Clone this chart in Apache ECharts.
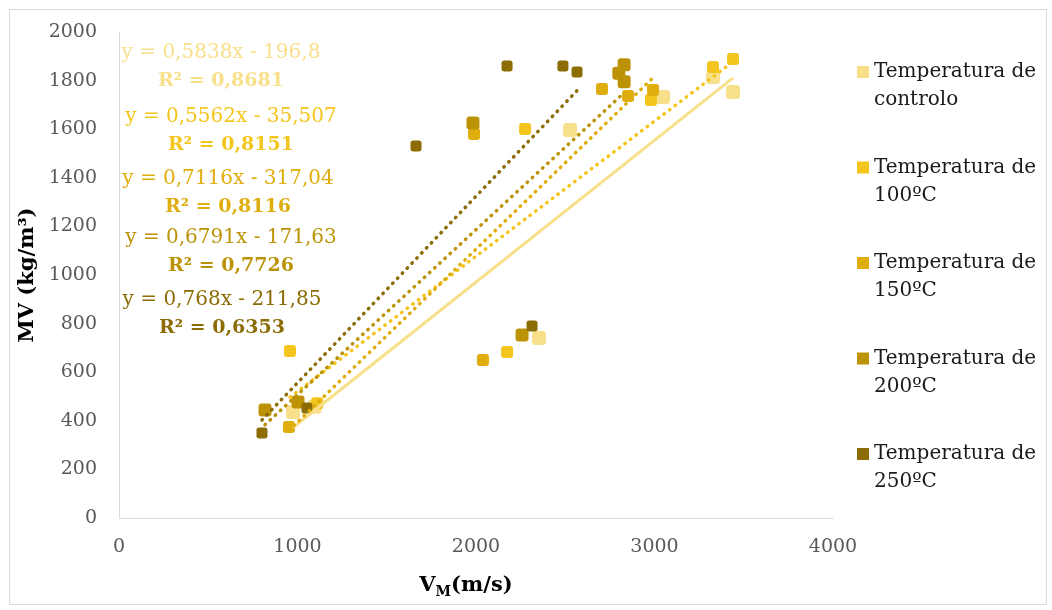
<!DOCTYPE html>
<html>
<head>
<meta charset="utf-8">
<script src="https://cdn.jsdelivr.net/npm/echarts@6/dist/echarts.min.js"></script>
<style>
  html, body { margin: 0; padding: 0; background: #fff; }
  #chart { width: 1052px; height: 610px; }
</style>
</head>
<body>
<div id="chart"></div>
<script>
// series names and legend text
var names = ['Temperatura de controlo', 'Temperatura de 100ºC', 'Temperatura de 150ºC', 'Temperatura de 200ºC', 'Temperatura de 250ºC'];
var legendSecond = ['controlo', '100ºC', '150ºC', '200ºC', '250ºC'];
var colors = ['#F8DF89', '#F4C51C', '#DFAD0D', '#BC9307', '#8B6C05'];

// V_M (m/s) and MV (kg/m3) per series
var ctrlX = [975, 1095, 2353, 2527, 3048, 3328, 3440];
var ctrlY = [436, 458, 741, 1597, 1733, 1815, 1753];
var t100X = [958, 1110, 2174, 2275, 2980, 3328, 3440];
var t100Y = [687, 472, 683, 1601, 1720, 1856, 1889];
var t150X = [952, 1989, 2039, 2706, 2852, 2992];
var t150Y = [374, 1580, 650, 1765, 1737, 1761];
var t200X = [818, 1003, 1983, 2258, 2800, 2830, 2830];
var t200Y = [444, 477, 1626, 753, 1830, 1865, 1795];
var t250X = [801, 1053, 1664, 2174, 2314, 2487, 2566];
var t250Y = [350, 453, 1531, 1860, 790, 1860, 1835];

// linear trendlines  y = a*x + b
var slopes = [0.5838, 0.5562, 0.7116, 0.6791, 0.768];
var intercepts = [-196.8, -35.507, -317.04, -171.63, -211.85];
var eqText = ['y = 0,5838x - 196,8', 'y = 0,5562x - 35,507', 'y = 0,7116x - 317,04', 'y = 0,6791x - 171,63', 'y = 0,768x - 211,85'];
var r2Text = ['R² = 0,8681', 'R² = 0,8151', 'R² = 0,8116', 'R² = 0,7726', 'R² = 0,6353'];

var xs = [ctrlX, t100X, t150X, t200X, t250X];
var ys = [ctrlY, t100Y, t150Y, t200Y, t250Y];
var symSize = [14, 12, 12, 13, 11];

var font = 'DejaVu Serif';
var myChart = echarts.init(document.getElementById('chart'));

var series = [];
// pontos
for (var i = 0; i < 5; i++) {
    var pts = [];
    for (var k = 0; k < xs[i].length; k++) pts.push([xs[i][k], ys[i][k]]);
    series.push({
        name: names[i],
        type: 'scatter',
        symbol: 'roundRect',
        symbolSize: symSize[i],
        itemStyle: { color: colors[i], opacity: 1 },
        data: pts,
        z: 2
    });
}
// linhas de tendencia
for (var i = 0; i < 5; i++) {
    var x0 = Math.min.apply(null, xs[i]);
    var x1 = Math.max.apply(null, xs[i]);
    series.push({
        name: 'trend' + i,
        type: 'line',
        symbol: 'none',
        silent: true,
        z: 3,
        lineStyle: i === 0 ? { color: colors[i], width: 3 } :
            { color: colors[i], width: 3.5, type: [0.5, 6.5], cap: 'round' },
        data: [[x0, slopes[i] * x0 + intercepts[i]], [x1, slopes[i] * x1 + intercepts[i]]]
    });
}

// equacoes
var eqY = [53, 117, 179, 238, 300];
var eqX = [221, 231, 228, 231, 222];
var graphics = [{
    type: 'rect', left: 7, top: 7, silent: true,
    shape: { width: 1037, height: 595 },
    style: { fill: null, stroke: '#D9D9D9', lineWidth: 1 }
}];
for (var i = 0; i < 5; i++) {
    graphics.push({
        type: 'text', x: eqX[i], y: eqY[i], silent: true,
        style: {
            text: eqText[i], fill: colors[i], font: '20px "' + font + '"',
            align: 'center', verticalAlign: 'middle'
        }
    });
    graphics.push({
        type: 'text', x: eqX[i], y: eqY[i] + 28, silent: true,
        style: {
            text: r2Text[i], fill: colors[i], font: 'bold 19px "' + font + '"',
            align: 'center', verticalAlign: 'middle'
        }
    });
}

var option = {
    animation: false,
    backgroundColor: '#fff',
    grid: { left: 119, right: 219, top: 32, bottom: 92 },
    legend: {
        orient: 'vertical',
        left: 857, top: 30, padding: 0,
        itemWidth: 12, itemHeight: 12, itemGap: 11.5,
        icon: 'rect',
        data: names,
        formatter: function (name) {
            return '\nTemperatura de\n' + legendSecond[names.indexOf(name)];
        },
        textStyle: { fontFamily: font, fontSize: 20, color: '#1a1a1a', lineHeight: 28 }
    },
    xAxis: {
        type: 'value', min: 0, max: 4000, interval: 1000,
        name: '{b|V}{s|M}{b|(m/s)}',
        nameLocation: 'middle', nameGap: 55,
        nameTextStyle: {
            padding: [0, 20, 0, 0],
            rich: {
                b: { fontFamily: font, fontSize: 21, fontWeight: 'bold', color: '#000', lineHeight: 26 },
                s: { fontFamily: font, fontSize: 14, fontWeight: 'bold', color: '#000', lineHeight: 26, verticalAlign: 'bottom', padding: [10, 0, 0, 0] }
            }
        },
        axisLine: { lineStyle: { color: '#D9D9D9' } },
        axisTick: { show: false },
        splitLine: { show: false },
        axisLabel: { fontFamily: font, fontSize: 19, color: '#595959', margin: 20, formatter: function (v) { return String(v); } }
    },
    yAxis: {
        type: 'value', min: 0, max: 2000, interval: 200,
        name: 'MV (kg/m³)',
        nameLocation: 'middle', nameGap: 78,
        nameTextStyle: { fontFamily: font, fontSize: 21, fontWeight: 'bold', color: '#000' },
        axisLine: { show: true, lineStyle: { color: '#D9D9D9' } },
        axisTick: { show: false },
        splitLine: { show: false },
        axisLabel: { fontFamily: font, fontSize: 19, color: '#595959', margin: 22, formatter: function (v) { return String(v); } }
    },
    graphic: graphics,
    series: series
};

myChart.setOption(option);
</script>
</body>
</html>
